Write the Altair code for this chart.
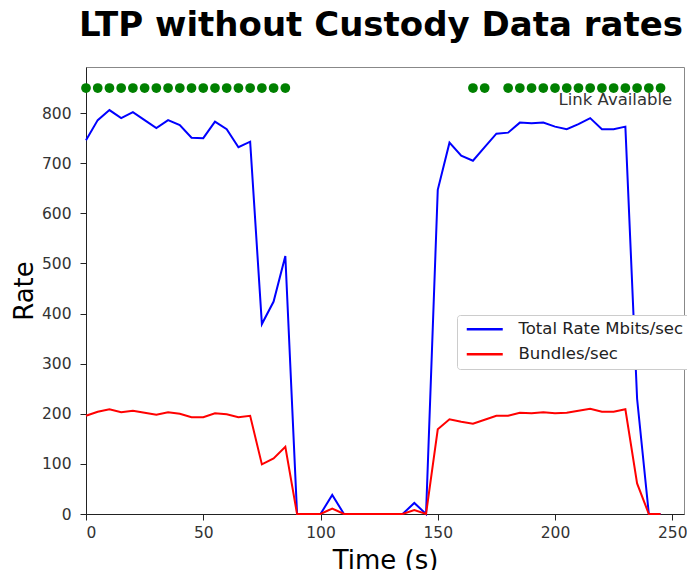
import altair as alt
import pandas as pd

# ---- data ----
time = [0, 5, 10, 15, 20, 25, 30, 35, 40, 45, 50, 55, 60, 65, 70, 75, 80, 85,
        90, 95, 100, 105, 110, 115, 120, 125, 130, 135, 140, 145,
        150, 155, 160, 165, 170, 175, 180, 185, 190, 195, 200, 205, 210, 215,
        220, 225, 230, 235, 240, 245]
total_rate = [746, 786, 806, 790, 802, 786, 770, 786, 776, 751, 750, 783, 768, 732, 743, 379, 424, 515,
              0, 0, 0, 38, 0, 0, 0, 0, 0, 0, 22, 0,
              647, 741, 715, 705, 732, 759, 761, 781, 780, 781, 773, 768, 778, 790,
              768, 768, 773, 230, 0, 0]
bundles = [196, 204, 209, 203, 206, 202, 198, 203, 200, 193, 193, 201, 199, 193, 196, 99, 111, 134,
           0, 0, 0, 11, 0, 0, 0, 0, 0, 0, 8, 0,
           169, 189, 184, 180, 188, 196, 196, 202, 201, 203, 201, 202, 206, 210,
           204, 204, 209, 61, 0, 0]
link_times = [0, 5, 10, 15, 20, 25, 30, 35, 40, 45, 50, 55, 60, 65, 70, 75, 80, 85,
              165, 170,
              180, 185, 190, 195, 200, 205, 210, 215, 220, 225, 230, 235, 240, 245]
link_level = 850
series_names = ["Total Rate Mbits/sec", "Bundles/sec"]
series_colors = ["#0000ff", "#ff0000"]
annot_text = "Link Available"
annot_x = 250
annot_y = 826

df_total = pd.DataFrame({"t": time, "v": total_rate, "s": series_names[0]})
df_bund = pd.DataFrame({"t": time, "v": bundles, "s": series_names[1]})
df_link = pd.DataFrame({"t": link_times, "v": [link_level] * len(link_times)})
df_annot = pd.DataFrame({"t": [annot_x], "v": [annot_y], "label": [annot_text]})

FONT = "DejaVu Sans"
xscale = alt.Scale(domain=[0, 255], nice=False, zero=False)
yscale = alt.Scale(domain=[0, 892], nice=False)
color = alt.Color("s:N", scale=alt.Scale(domain=series_names, range=series_colors),
                  legend=alt.Legend(title=None, orient="none", legendX=371, legendY=248,
                                    symbolType="M-1,0H7", symbolSize=81, symbolStrokeWidth=2.5,
                                    labelFontSize=16.5, labelFont=FONT, labelColor="#222",
                                    labelOffset=39, fillColor="white", strokeColor="#cccccc",
                                    cornerRadius=3, padding=6, rowPadding=8, labelLimit=300))

xenc = alt.X("t:Q", scale=xscale,
             axis=alt.Axis(title="Time (s)", values=[0, 50, 100, 150, 200, 250]))
yenc = alt.Y("v:Q", scale=yscale,
             axis=alt.Axis(title="Rate", values=[0, 100, 200, 300, 400, 500, 600, 700, 800]))

dots = alt.Chart(df_link).mark_point(filled=True, shape="circle", size=95, color="#008000",
                                     opacity=1).encode(x=xenc, y=yenc)
blue = alt.Chart(df_total).mark_line(strokeWidth=2).encode(x=xenc, y=yenc, color=color)
red = alt.Chart(df_bund).mark_line(strokeWidth=2).encode(x=xenc, y=yenc, color=color)
annot = alt.Chart(df_annot).mark_text(align="right", baseline="middle", fontSize=16.5,
                                      font=FONT, color="#333").encode(
    x=xenc, y=yenc, text="label:N")

chart = alt.layer(dots, blue, red, annot).properties(
    width=598, height=447,
    background="white",
    title=alt.TitleParams("LTP without Custody Data rates", fontSize=34, font=FONT,
                          fontWeight="bold", color="black", offset=-3, baseline="alphabetic",
                          anchor="middle", dx=-4),
    autosize=alt.AutoSizeParams(type="none"),
    padding={"left": 86, "top": 67, "right": 3, "bottom": 56},
).configure_view(stroke="#888888", strokeWidth=1).configure_axis(
    grid=False, domainColor="#222", tickColor="#222", tickSize=6,
    labelFont=FONT, labelFontSize=15.5, labelColor="#333",
    titleFont=FONT, titleFontSize=26, titleFontWeight="normal", titleColor="black",
).configure_axisX(labelPadding=5, titlePadding=7).configure_axisY(
    labelPadding=9, titlePadding=4)

chart.save("out.html", embed_options={"renderer": "svg", "actions": False})
